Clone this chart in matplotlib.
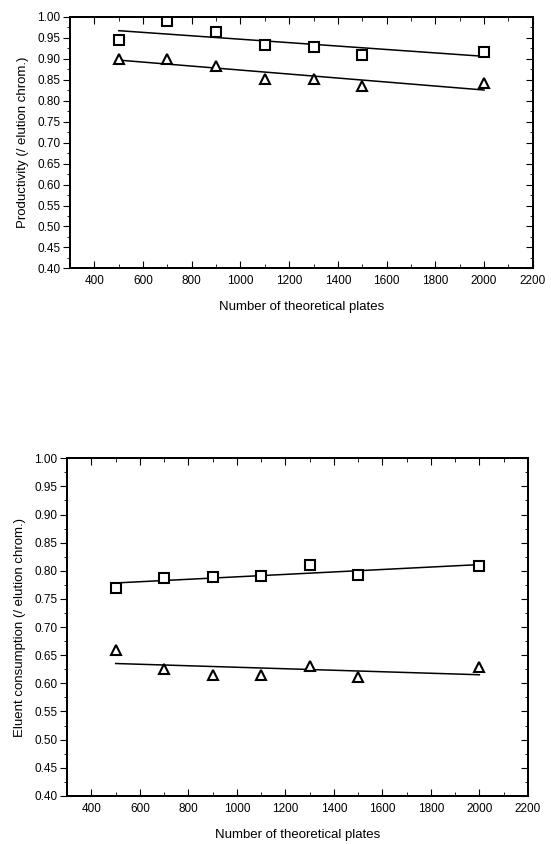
import matplotlib
matplotlib.use("Agg")
import matplotlib.pyplot as plt
import numpy as np
from matplotlib.ticker import MultipleLocator

plt.rcParams['font.family'] = ['Liberation Sans', 'DejaVu Sans']

# number of theoretical plates
plates = [500, 700, 900, 1100, 1300, 1500, 2000]

# productivity relative to elution chromatography
prod_square = [0.945, 0.990, 0.965, 0.932, 0.927, 0.910, 0.917]
prod_triangle = [0.900, 0.900, 0.883, 0.851, 0.853, 0.835, 0.842]

# eluent consumption relative to elution chromatography
elu_square = [0.770, 0.787, 0.789, 0.790, 0.811, 0.792, 0.808]
elu_triangle = [0.660, 0.626, 0.615, 0.615, 0.631, 0.611, 0.629]

x_ticks = [400, 600, 800, 1000, 1200, 1400, 1600, 1800, 2000, 2200]
y_ticks = [0.40, 0.45, 0.50, 0.55, 0.60, 0.65, 0.70, 0.75, 0.80, 0.85, 0.90, 0.95, 1.00]
x_label = "Number of theoretical plates"


def draw_panel(ax, sq, tr, ylabel):
    x = np.array(plates, dtype=float)
    for vals, mk in [(sq, 's'), (tr, '^')]:
        ax.plot(x, vals, linestyle='none', marker=mk, markersize=7,
                markerfacecolor='white', markeredgecolor='black',
                markeredgewidth=1.5, zorder=3)
        # least squares trend line
        k, b = np.polyfit(x, vals, 1)
        ax.plot([x[0], x[-1]], [k * x[0] + b, k * x[-1] + b],
                color='black', linewidth=1.1, zorder=2)

    ax.set_xlim(300, 2200)
    ax.set_ylim(0.40, 1.00)
    ax.set_xticks(x_ticks)
    ax.set_xticklabels([str(t) for t in x_ticks])
    ax.set_yticks(y_ticks)
    ax.set_yticklabels(["%.2f" % t for t in y_ticks])
    ax.xaxis.set_minor_locator(MultipleLocator(100))
    ax.yaxis.set_minor_locator(MultipleLocator(0.025))

    ax.tick_params(axis='x', which='both', direction='in', top=True,
                   labelsize=8.5, pad=5)
    ax.tick_params(axis='x', which='major', length=5)
    ax.tick_params(axis='x', which='minor', length=3)
    ax.tick_params(axis='y', which='both', direction='out', right=False,
                   labelsize=8.5, pad=2)
    ax.tick_params(axis='y', which='major', length=5)
    ax.tick_params(axis='y', which='minor', length=2)

    # inward ticks on the right spine
    ax2 = ax.twinx()
    ax2.set_ylim(ax.get_ylim())
    ax2.set_yticks(y_ticks)
    ax2.yaxis.set_minor_locator(MultipleLocator(0.025))
    ax2.tick_params(axis='y', which='both', direction='in', labelright=False)
    ax2.tick_params(axis='y', which='major', length=5)
    ax2.tick_params(axis='y', which='minor', length=2)

    for a in (ax, ax2):
        for s in a.spines.values():
            s.set_linewidth(1.4)

    ax.set_xlabel(x_label, fontsize=9.5, labelpad=10)
    ax.set_ylabel(ylabel, fontsize=9.5, labelpad=6)


fig = plt.figure(figsize=(5.51, 8.44), dpi=100)

ax_top = fig.add_axes([0.127, 0.682, 0.840, 0.298])
draw_panel(ax_top, prod_square, prod_triangle, "Productivity (/ elution chrom.)")

ax_bot = fig.add_axes([0.122, 0.057, 0.836, 0.400])
draw_panel(ax_bot, elu_square, elu_triangle, "Eluent consumption (/ elution chrom.)")

fig.savefig("out.png", dpi=100)
